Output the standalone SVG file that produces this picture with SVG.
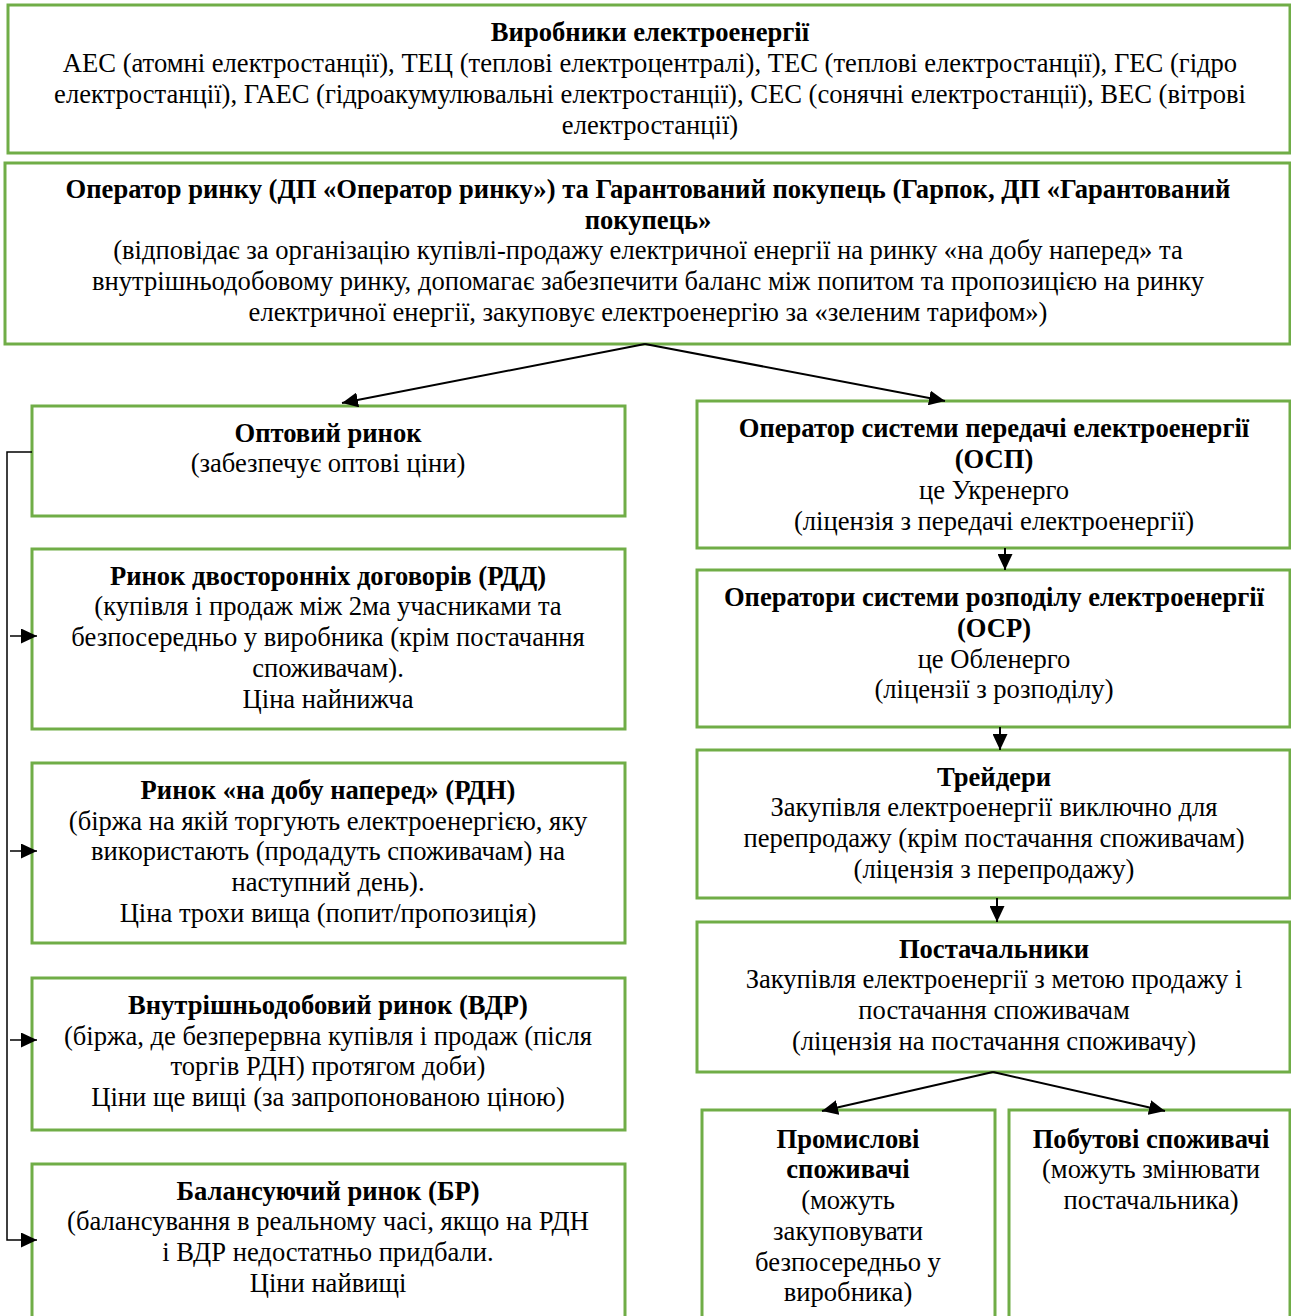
<svg xmlns="http://www.w3.org/2000/svg" width="1291" height="1316" viewBox="0 0 1291 1316">
<defs>
<style>
.box{fill:#fff;stroke:#70AD47;stroke-width:3}
.txt text{font-family:"Liberation Serif",serif;font-size:26.6px;fill:#000;text-anchor:middle}
.b{font-weight:bold}
.c{fill:none;stroke:#000;stroke-width:2}
.t{fill:none;stroke:#000;stroke-width:1.5}
</style>
<marker id="ah" viewBox="0 0 10 10" refX="10" refY="5" markerWidth="16" markerHeight="15" markerUnits="userSpaceOnUse" orient="auto" preserveAspectRatio="none">
<path d="M0,0 L10,5 L0,10 z" fill="#000"/>
</marker>
</defs>
<rect width="1291" height="1316" fill="#fff"/>
<g class="txt">

<g id="n-producers">
<rect class="box" x="8" y="5" width="1282" height="148"/>
<text x="650" y="41" class="b">Виробники електроенергії</text>
<text x="650" y="72">АЕС (атомні електростанції), ТЕЦ (теплові електроцентралі), ТЕС (теплові електростанції), ГЕС (гідро</text>
<text x="650" y="103">електростанції), ГАЕС (гідроакумулювальні електростанції), СЕС (сонячні електростанції), ВЕС (вітрові</text>
<text x="650" y="134">електростанції)</text>
</g>

<g id="n-operator">
<rect class="box" x="5" y="163" width="1285" height="181"/>
<text x="648" y="198" class="b">Оператор ринку (ДП «Оператор ринку») та Гарантований покупець (Гарпок, ДП «Гарантований</text>
<text x="648" y="229" class="b">покупець»</text>
<text x="648" y="259">(відповідає за організацію купівлі-продажу електричної енергії на ринку «на добу наперед» та</text>
<text x="648" y="290">внутрішньодобовому ринку, допомагає забезпечити баланс між попитом та пропозицією на ринку</text>
<text x="648" y="321">електричної енергії, закуповує електроенергію за «зеленим тарифом»)</text>
</g>

<g id="n-wholesale">
<rect class="box" x="32" y="406" width="593" height="110"/>
<text x="328" y="442" class="b">Оптовий ринок</text>
<text x="328" y="472">(забезпечує оптові ціни)</text>
</g>

<g id="n-rdd">
<rect class="box" x="32" y="549" width="593" height="180"/>
<text x="328" y="585" class="b">Ринок двосторонніх договорів (РДД)</text>
<text x="328" y="615">(купівля і продаж між 2ма учасниками та</text>
<text x="328" y="646">безпосередньо у виробника (крім постачання</text>
<text x="328" y="677">споживачам).</text>
<text x="328" y="708">Ціна найнижча</text>
</g>

<g id="n-rdn">
<rect class="box" x="32" y="763" width="593" height="180"/>
<text x="328" y="799" class="b">Ринок «на добу наперед» (РДН)</text>
<text x="328" y="830">(біржа на якій торгують електроенергією, яку</text>
<text x="328" y="860">використають (продадуть споживачам) на</text>
<text x="328" y="891">наступний день).</text>
<text x="328" y="922">Ціна трохи вища (попит/пропозиція)</text>
</g>

<g id="n-vdr">
<rect class="box" x="32" y="978" width="593" height="152"/>
<text x="328" y="1014" class="b">Внутрішньодобовий ринок (ВДР)</text>
<text x="328" y="1045">(біржа, де безперервна купівля і продаж (після</text>
<text x="328" y="1075">торгів РДН) протягом доби)</text>
<text x="328" y="1106">Ціни ще вищі (за запропонованою ціною)</text>
</g>

<g id="n-br">
<rect class="box" x="32" y="1164" width="593" height="160"/>
<text x="328" y="1200" class="b">Балансуючий ринок (БР)</text>
<text x="328" y="1230">(балансування в реальному часі, якщо на РДН</text>
<text x="328" y="1261">і ВДР недостатньо придбали.</text>
<text x="328" y="1292">Ціни найвищі</text>
</g>

<g id="n-osp">
<rect class="box" x="697" y="401" width="593" height="147"/>
<text x="994" y="437" class="b">Оператор системи передачі електроенергії</text>
<text x="994" y="468" class="b">(ОСП)</text>
<text x="994" y="499">це Укренерго</text>
<text x="994" y="530">(ліцензія з передачі електроенергії)</text>
</g>

<g id="n-osr">
<rect class="box" x="697" y="570" width="593" height="157"/>
<text x="994" y="606" class="b">Оператори системи розподілу електроенергії</text>
<text x="994" y="637" class="b">(ОСР)</text>
<text x="994" y="668">це Обленерго</text>
<text x="994" y="698">(ліцензії з розподілу)</text>
</g>

<g id="n-traders">
<rect class="box" x="697" y="750" width="593" height="148"/>
<text x="994" y="786" class="b">Трейдери</text>
<text x="994" y="816">Закупівля електроенергії виключно для</text>
<text x="994" y="847">перепродажу (крім постачання споживачам)</text>
<text x="994" y="878">(ліцензія з перепродажу)</text>
</g>

<g id="n-suppliers">
<rect class="box" x="697" y="922" width="593" height="150"/>
<text x="994" y="958" class="b">Постачальники</text>
<text x="994" y="988">Закупівля електроенергії з метою продажу і</text>
<text x="994" y="1019">постачання споживачам</text>
<text x="994" y="1050">(ліцензія на постачання споживачу)</text>
</g>

<g id="n-industrial">
<rect class="box" x="702" y="1110" width="293" height="214"/>
<text x="848" y="1148" class="b">Промислові</text>
<text x="848" y="1178" class="b">споживачі</text>
<text x="848" y="1209">(можуть</text>
<text x="848" y="1240">закуповувати</text>
<text x="848" y="1271">безпосередньо у</text>
<text x="848" y="1301">виробника)</text>
</g>

<g id="n-household">
<rect class="box" x="1009" y="1110" width="281" height="214"/>
<text x="1151" y="1148" class="b">Побутові споживачі</text>
<text x="1151" y="1178">(можуть змінювати</text>
<text x="1151" y="1209">постачальника)</text>
</g>
</g>

<g id="connectors">
<line class="c" x1="645" y1="344" x2="342" y2="403" marker-end="url(#ah)"/>
<line class="c" x1="645" y1="344" x2="945" y2="401" marker-end="url(#ah)"/>
<line class="c" x1="1005" y1="548" x2="1005" y2="570" marker-end="url(#ah)"/>
<line class="c" x1="1000" y1="727" x2="1000" y2="750" marker-end="url(#ah)"/>
<line class="c" x1="997" y1="898" x2="997" y2="922" marker-end="url(#ah)"/>
<line class="c" x1="993" y1="1072" x2="822" y2="1111" marker-end="url(#ah)"/>
<line class="c" x1="993" y1="1072" x2="1165" y2="1111" marker-end="url(#ah)"/>
<polyline class="t" points="32,452 7,452 7,1240 37,1240" marker-end="url(#ah)"/>
<line class="t" x1="10" y1="636" x2="37" y2="636" marker-end="url(#ah)"/>
<line class="t" x1="10" y1="851" x2="37" y2="851" marker-end="url(#ah)"/>
<line class="t" x1="10" y1="1040" x2="37" y2="1040" marker-end="url(#ah)"/>
</g>
</svg>
